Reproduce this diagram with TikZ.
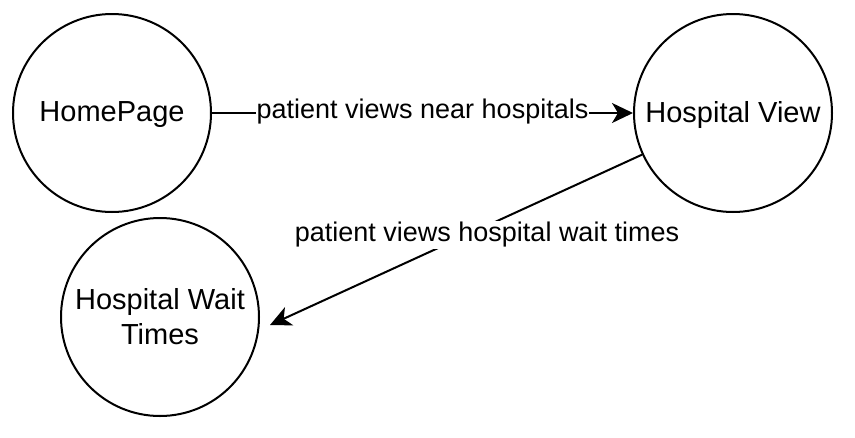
\documentclass[tikz,border=0pt]{standalone}
\usepackage{fontspec}
\setmainfont{Liberation Sans}
\usetikzlibrary{arrows.meta}
\tikzset{
    state/.style={draw, circle, line width=2pt, minimum size=198pt, inner sep=0pt,
        font=\fontsize{29}{35}\selectfont, align=center, text depth=2pt},
    trans/.style={-{Stealth[length=21pt, width=20pt, inset=6pt]}, line width=2pt},
    lbl/.style={fill=white, inner sep=1pt, font=\fontsize{27}{32}\selectfont}
}
\begin{document}
\begin{tikzpicture}[x=1pt, y=-1pt]
            \useasboundingbox (0,0) rectangle (855,437);
            \node[state] (home) at (112,113) {HomePage};
            \node[state] (hview) at (733,113) {Hospital View};
            \node[state] (wait) at (160,317) {Hospital Wait\\Times};
            \coordinate (waitend) at (270,325);
            \draw[trans] (home) -- (hview) node[lbl, midway, yshift=1pt] {patient views near hospitals};
            \draw[trans] (hview) -- (waitend);
            \node[lbl] (waitlbl) at (487,235) {patient views hospital wait times};
        \end{tikzpicture}
\end{document}
